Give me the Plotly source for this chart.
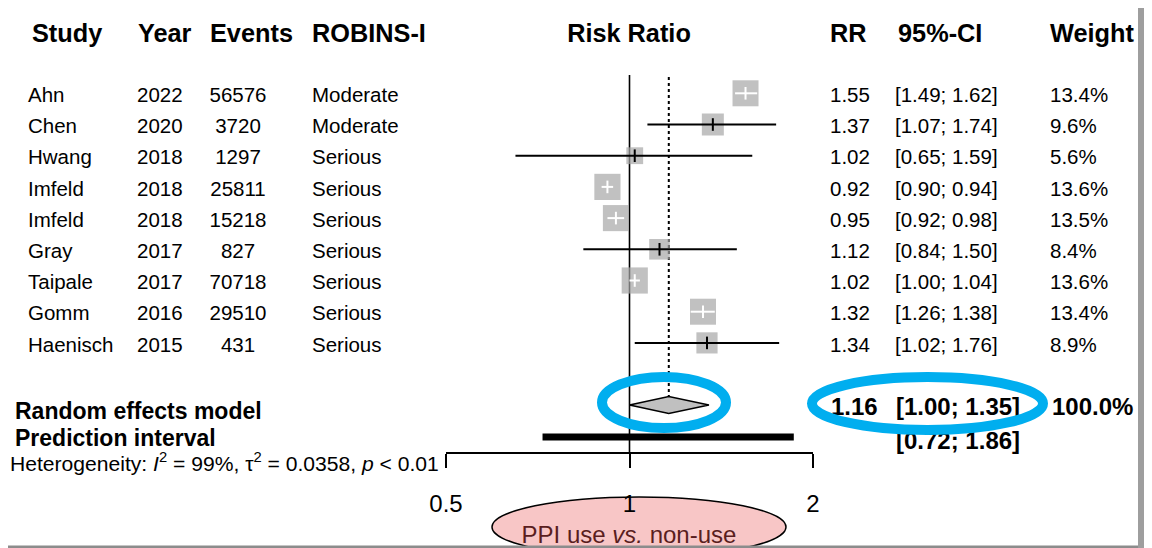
import math
import plotly.graph_objects as go

# ---------------- data ----------------
studies = ["Ahn", "Chen", "Hwang", "Imfeld", "Imfeld", "Gray", "Taipale", "Gomm", "Haenisch"]
years = ["2022", "2020", "2018", "2018", "2018", "2017", "2017", "2016", "2015"]
events = ["56576", "3720", "1297", "25811", "15218", "827", "70718", "29510", "431"]
robins = ["Moderate", "Moderate", "Serious", "Serious", "Serious", "Serious", "Serious", "Serious", "Serious"]
rr = [1.55, 1.37, 1.02, 0.92, 0.95, 1.12, 1.02, 1.32, 1.34]
ci_low = [1.49, 1.07, 0.65, 0.90, 0.92, 0.84, 1.00, 1.26, 1.02]
ci_high = [1.62, 1.74, 1.59, 0.94, 0.98, 1.50, 1.04, 1.38, 1.76]
weights = [13.4, 9.6, 5.6, 13.6, 13.5, 8.4, 13.6, 13.4, 8.9]

re_rr = 1.16
re_low = 1.00
re_high = 1.35
re_weight = 100.0
pi_low = 0.72
pi_high = 1.86
i2 = 99
tau2 = 0.0358

headers = ["Study", "Year", "Events", "ROBINS-I", "Risk Ratio", "RR", "95%-CI", "Weight"]
tick_vals = [0.5, 1, 2]
tick_text = ["0.5", "1", "2"]
contrast_label = "PPI use <i>vs.</i> non-use"

# ---------------- layout constants (page pixels) ----------------
W, H = 1152, 548
OFS = 8          # page body margin of the html page
ROW0 = 93.3      # page pixel y of first study row
ROWH = 31.2      # pixel per row
TXT_DY = 3.5     # text baseline nudge (pixels)
AX_L, AX_R = 446.0, 813.0   # page pixel x of 0.5 and 2
AX_Y = 453.0                 # page pixel y of x axis line
PX_PER_LOG2 = (AX_R - AX_L) / (math.log2(2) - math.log2(0.5))
FONT = "Liberation Sans, Arial, sans-serif"


def r_of(py):
    return (py - ROW0) / ROWH


def px_paper(px):
    return (px - OFS) / W


def py_paper(py):
    return (H - (py - OFS)) / H


rows = list(range(len(studies)))
text_rows = [k + TXT_DY / ROWH for k in rows]
ROW_RE = r_of(405)
ROW_PI = r_of(437)
sizes = [7.1 * math.sqrt(w) for w in weights]

fig = go.Figure()

# reference lines (no effect, pooled estimate)
fig.add_trace(go.Scatter(x=[1, 1], y=[r_of(75), r_of(AX_Y)], mode="lines",
                         line=dict(color="black", width=1.6), hoverinfo="skip"))
fig.add_trace(go.Scatter(x=[re_rr, re_rr], y=[r_of(77), ROW_RE - 0.27], mode="lines",
                         line=dict(color="black", width=2, dash="dot"), hoverinfo="skip"))

# squares
fig.add_trace(go.Scatter(x=rr, y=rows, mode="markers", cliponaxis=False,
                         marker=dict(symbol="square", size=sizes, color="#A6A6A6",
                                     line=dict(width=0)), hoverinfo="skip"))

# CI lines: white if inside the square, black otherwise
inside = []
for k in rows:
    half = max(math.log2(rr[k] / ci_low[k]), math.log2(ci_high[k] / rr[k])) * PX_PER_LOG2
    inside.append(half < sizes[k] / 2)

for flag, col in [(False, "black"), (True, "white")]:
    xs, ys = [], []
    for k in rows:
        if inside[k] == flag:
            xs += [ci_low[k], ci_high[k], None]
            ys += [k, k, None]
    fig.add_trace(go.Scatter(x=xs, y=ys, mode="lines", line=dict(color=col, width=2),
                             hoverinfo="skip"))
    fig.add_trace(go.Scatter(x=[rr[k] for k in rows if inside[k] == flag],
                             y=[k for k in rows if inside[k] == flag],
                             mode="markers", cliponaxis=False,
                             marker=dict(symbol="line-ns", size=9,
                                         line=dict(color=col, width=2)),
                             hoverinfo="skip"))

# pooled diamond
dh = 0.27
fig.add_trace(go.Scatter(x=[re_low, re_rr, re_high, re_rr, re_low],
                         y=[ROW_RE, ROW_RE - dh, ROW_RE, ROW_RE + dh, ROW_RE],
                         mode="lines", fill="toself", fillcolor="#C0C0C0",
                         line=dict(color="black", width=1.5), hoverinfo="skip"))
# prediction interval bar
fig.add_trace(go.Scatter(x=[pi_low, pi_high], y=[ROW_PI, ROW_PI], mode="lines",
                         line=dict(color="black", width=7), hoverinfo="skip"))


# ---------------- text columns (x2 = page pixel columns) ----------------
def text_trace(xs, ys, texts, size, bold=False, pos="middle right", color="black"):
    fig.add_trace(go.Scatter(
        x=xs, y=ys, text=texts, mode="text", textposition=pos, xaxis="x2", yaxis="y",
        cliponaxis=False,
        textfont=dict(family=FONT, size=size, color=color,
                      weight="bold" if bold else "normal"),
        hoverinfo="skip"))


HDR_R = r_of(36)
hdr_x = [32, 138, 210, 312, None, 830, 898, 1050]
text_trace([x for x in hdr_x if x is not None], [HDR_R] * 7,
           [h for h, x in zip(headers, hdr_x) if x is not None], 25.3, bold=True)
text_trace([629], [HDR_R], [headers[4]], 25.3, bold=True, pos="middle center")

RS = 20.5
text_trace([28] * 9, text_rows, studies, RS)
text_trace([137] * 9, text_rows, years, RS)
text_trace([238] * 9, text_rows, events, RS, pos="middle center")
text_trace([312] * 9, text_rows, robins, RS)
text_trace([830] * 9, text_rows, [f"{v:.2f}" for v in rr], RS)
text_trace([895] * 9, text_rows, [f"[{a:.2f}; {b:.2f}]" for a, b in zip(ci_low, ci_high)], RS)
text_trace([1050] * 9, text_rows, [f"{w:.1f}%" for w in weights], RS)

# summary rows
text_trace([15, 15], [r_of(413), r_of(440)], ["Random effects model", "Prediction interval"],
           23, bold=True)
text_trace([831, 896, 1052], [r_of(409)] * 3,
           [f"{re_rr:.2f}", f"[{re_low:.2f}; {re_high:.2f}]", f"{re_weight:.1f}%"], 24, bold=True)
text_trace([896], [r_of(443)], [f"[{pi_low:.2f}; {pi_high:.2f}]"], 24, bold=True)
text_trace([10], [r_of(466)],
           [f"Heterogeneity: <i>I</i><sup>2</sup> = {i2}%, τ<sup>2</sup> = {tau2}, <i>p</i> &lt; 0.01"],
           21.1)

# contrast label inside pink ellipse
text_trace([629], [r_of(537)], [contrast_label], 24, pos="middle center", color="#5a1e1e")

# ---------------- shapes ----------------
shapes = [
    # pink ellipse (behind everything, incl. the tick label "1")
    dict(type="circle", xref="paper", yref="paper",
         x0=px_paper(492), x1=px_paper(786), y0=py_paper(557), y1=py_paper(497),
         fillcolor="#F8C6C6", line=dict(color="black", width=1.5), layer="below"),
    # blue highlight ellipses
    dict(type="circle", xref="x2", yref="y", x0=602, x1=726, y0=r_of(377), y1=r_of(428),
         line=dict(color="#00AEEF", width=10), layer="above"),
    dict(type="circle", xref="x2", yref="y", x0=812, x1=1043, y0=r_of(377), y1=r_of(430),
         line=dict(color="#00AEEF", width=10), layer="above"),
    # slide frame edges
    dict(type="rect", xref="paper", yref="paper", x0=px_paper(1138), x1=1.0, y0=0, y1=1,
         fillcolor="#9E9E9E", line=dict(width=0), layer="above"),
    dict(type="rect", xref="paper", yref="paper", x0=0, x1=px_paper(1138),
         y0=0, y1=py_paper(545.5),
         fillcolor="#8C8C8C", line=dict(width=0), layer="above"),
]

fig.update_layout(
    width=W, height=H,
    margin=dict(l=0, r=0, t=0, b=0, autoexpand=False),
    paper_bgcolor="white", plot_bgcolor="rgba(0,0,0,0)",
    showlegend=False,
    shapes=shapes,
    xaxis=dict(type="log", domain=[(AX_L - OFS) / W, (AX_R - OFS) / W],
               range=[math.log10(0.5), math.log10(2)],
               anchor="free", position=(H - (AX_Y - OFS)) / H,
               showline=True, linecolor="black", linewidth=1.6,
               ticks="outside", ticklen=14, tickwidth=1.6, tickcolor="black",
               tickvals=tick_vals, ticktext=tick_text,
               tickfont=dict(family=FONT, size=24, color="black"),
               ticklabelstandoff=15, automargin=False,
               showgrid=False, zeroline=False, fixedrange=True),
    xaxis2=dict(range=[OFS, W + OFS], domain=[0, 1], anchor="y", visible=False,
                fixedrange=True),
    yaxis=dict(range=[r_of(H + OFS), r_of(OFS)], domain=[0, 1], visible=False,
               fixedrange=True),
)

fig.write_html("out.html")
